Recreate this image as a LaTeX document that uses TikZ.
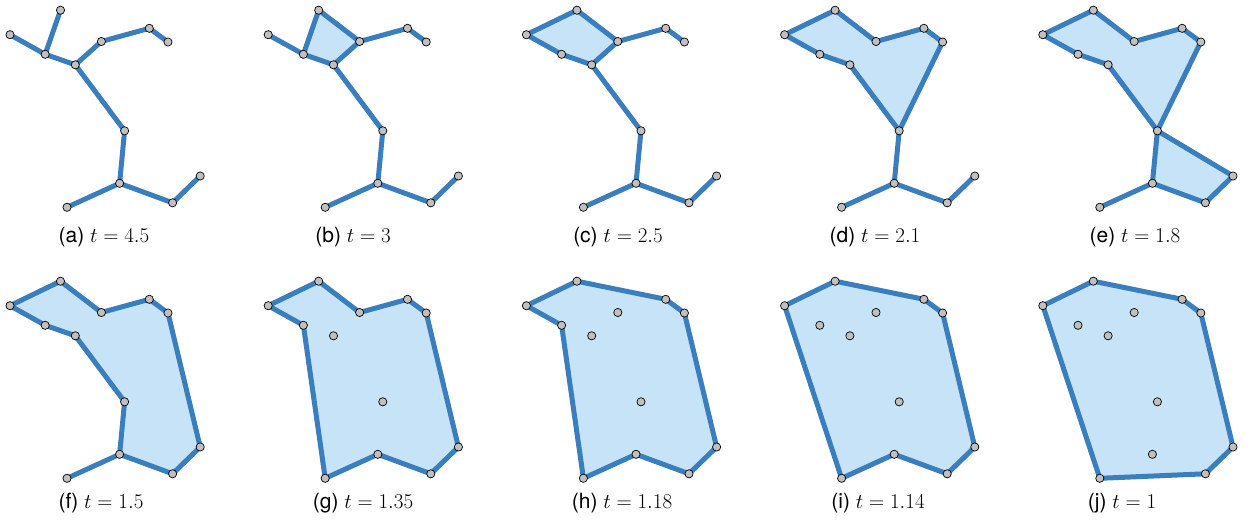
\RequirePackage{fix-cm}
\documentclass[tikz,border=0pt]{standalone}
\usepackage{fontspec}
\newfontfamily\capfont{TeX Gyre Heros}
\definecolor{edgeblue}{RGB}{58,126,189}
\definecolor{fillblue}{RGB}{198,227,247}
\definecolor{dotgray}{RGB}{192,192,192}
\newcommand{\mkpts}[3]{%
  \coordinate (#1-1) at (#2+10,#3+34.7);
  \coordinate (#1-2) at (#2+60.5,#3+10.2);
  \coordinate (#1-3) at (#2+45.2,#3+54.3);
  \coordinate (#1-4) at (#2+75.3,#3+64.8);
  \coordinate (#1-5) at (#2+101.4,#3+41.5);
  \coordinate (#1-6) at (#2+149.3,#3+28.3);
  \coordinate (#1-7) at (#2+168,#3+42);
  \coordinate (#1-8) at (#2+124.6,#3+130.8);
  \coordinate (#1-9) at (#2+119.6,#3+183.3);
  \coordinate (#1-10) at (#2+67,#3+207.3);
  \coordinate (#1-11) at (#2+172.6,#3+202.8);
  \coordinate (#1-12) at (#2+200.2,#3+176);
}
\newcommand{\mkdots}[1]{%
  \foreach \i in {1,...,12} {\node[ptdot] (#1-dot-\i) at (#1-\i) {};}
}
\begin{document}
\begin{tikzpicture}[x=1pt,y=-1pt,
  edge/.style={draw=edgeblue,line width=5pt,line cap=round,line join=round},
  region/.style={edge,fill=fillblue},
  ptdot/.style={circle,draw=black,line width=0.7pt,fill=dotgray,minimum size=8.2pt,inner sep=0pt},
  lab/.style={font=\fontsize{21}{24}\selectfont, inner sep=0pt}]
\useasboundingbox (0,0) rectangle (1250,524);
% panel coordinates
\mkpts{a}{0}{0}
\mkpts{b}{258.2}{0}
\mkpts{c}{516.4}{0}
\mkpts{d}{774.6}{0}
\mkpts{e}{1032.8}{0}
\mkpts{f}{0}{271}
\mkpts{g}{258.2}{271}
\mkpts{h}{516.4}{271}
\mkpts{i}{774.6}{271}
\mkpts{j}{1032.8}{271}
% (a)
\draw[edge] (a-1) -- (a-3) -- (a-4) -- (a-5) -- (a-6) -- (a-7);
\draw[edge] (a-2) -- (a-3);
\draw[edge] (a-4) -- (a-8) -- (a-9) -- (a-10);
\draw[edge] (a-9) -- (a-11) -- (a-12);
% (b)
\draw[region] (b-3) -- (b-2) -- (b-5) -- (b-4) -- cycle;
\draw[edge] (b-1) -- (b-3);
\draw[edge] (b-5) -- (b-6) -- (b-7);
\draw[edge] (b-4) -- (b-8) -- (b-9) -- (b-10);
\draw[edge] (b-9) -- (b-11) -- (b-12);
% (c)
\draw[region] (c-1) -- (c-2) -- (c-5) -- (c-4) -- (c-3) -- cycle;
\draw[edge] (c-5) -- (c-6) -- (c-7);
\draw[edge] (c-4) -- (c-8) -- (c-9) -- (c-10);
\draw[edge] (c-9) -- (c-11) -- (c-12);
% (d)
\draw[region] (d-1) -- (d-2) -- (d-5) -- (d-6) -- (d-7) -- (d-8) -- (d-4) -- (d-3) -- cycle;
\draw[edge] (d-8) -- (d-9) -- (d-10);
\draw[edge] (d-9) -- (d-11) -- (d-12);
% (e)
\draw[region] (e-1) -- (e-2) -- (e-5) -- (e-6) -- (e-7) -- (e-8) -- (e-4) -- (e-3) -- cycle;
\draw[region] (e-8) -- (e-12) -- (e-11) -- (e-9) -- cycle;
\draw[edge] (e-9) -- (e-10);
% (f)
\draw[region] (f-1) -- (f-2) -- (f-5) -- (f-6) -- (f-7) -- (f-12) -- (f-11) -- (f-9) -- (f-8) -- (f-4) -- (f-3) -- cycle;
\draw[edge] (f-9) -- (f-10);
% (g)
\draw[region] (g-1) -- (g-2) -- (g-5) -- (g-6) -- (g-7) -- (g-12) -- (g-11) -- (g-9) -- (g-10) -- (g-3) -- cycle;
% (h)
\draw[region] (h-1) -- (h-2) -- (h-6) -- (h-7) -- (h-12) -- (h-11) -- (h-9) -- (h-10) -- (h-3) -- cycle;
% (i)
\draw[region] (i-1) -- (i-2) -- (i-6) -- (i-7) -- (i-12) -- (i-11) -- (i-9) -- (i-10) -- cycle;
% (j)
\draw[region] (j-1) -- (j-2) -- (j-6) -- (j-7) -- (j-12) -- (j-11) -- (j-10) -- cycle;
% dots
\mkdots{a}\mkdots{b}\mkdots{c}\mkdots{d}\mkdots{e}
\mkdots{f}\mkdots{g}\mkdots{h}\mkdots{i}\mkdots{j}
% labels
\node[lab] (lab-a) at (104,237) {\capfont(a) $t=4.5$};
\node[lab] (lab-b) at (353,237) {\capfont(b) $t=3$};
\node[lab] (lab-c) at (618,237) {\capfont(c) $t=2.5$};
\node[lab] (lab-d) at (875,237) {\capfont(d) $t=2.1$};
\node[lab] (lab-e) at (1135,237) {\capfont(e) $t=1.8$};
\node[lab] (lab-f) at (101,503) {\capfont(f) $t=1.5$};
\node[lab] (lab-g) at (363,503) {\capfont(g) $t=1.35$};
\node[lab] (lab-h) at (622,503) {\capfont(h) $t=1.18$};
\node[lab] (lab-i) at (878,503) {\capfont(i) $t=1.14$};
\node[lab] (lab-j) at (1122,503) {\capfont(j) $t=1$};
\end{tikzpicture}
\end{document}
